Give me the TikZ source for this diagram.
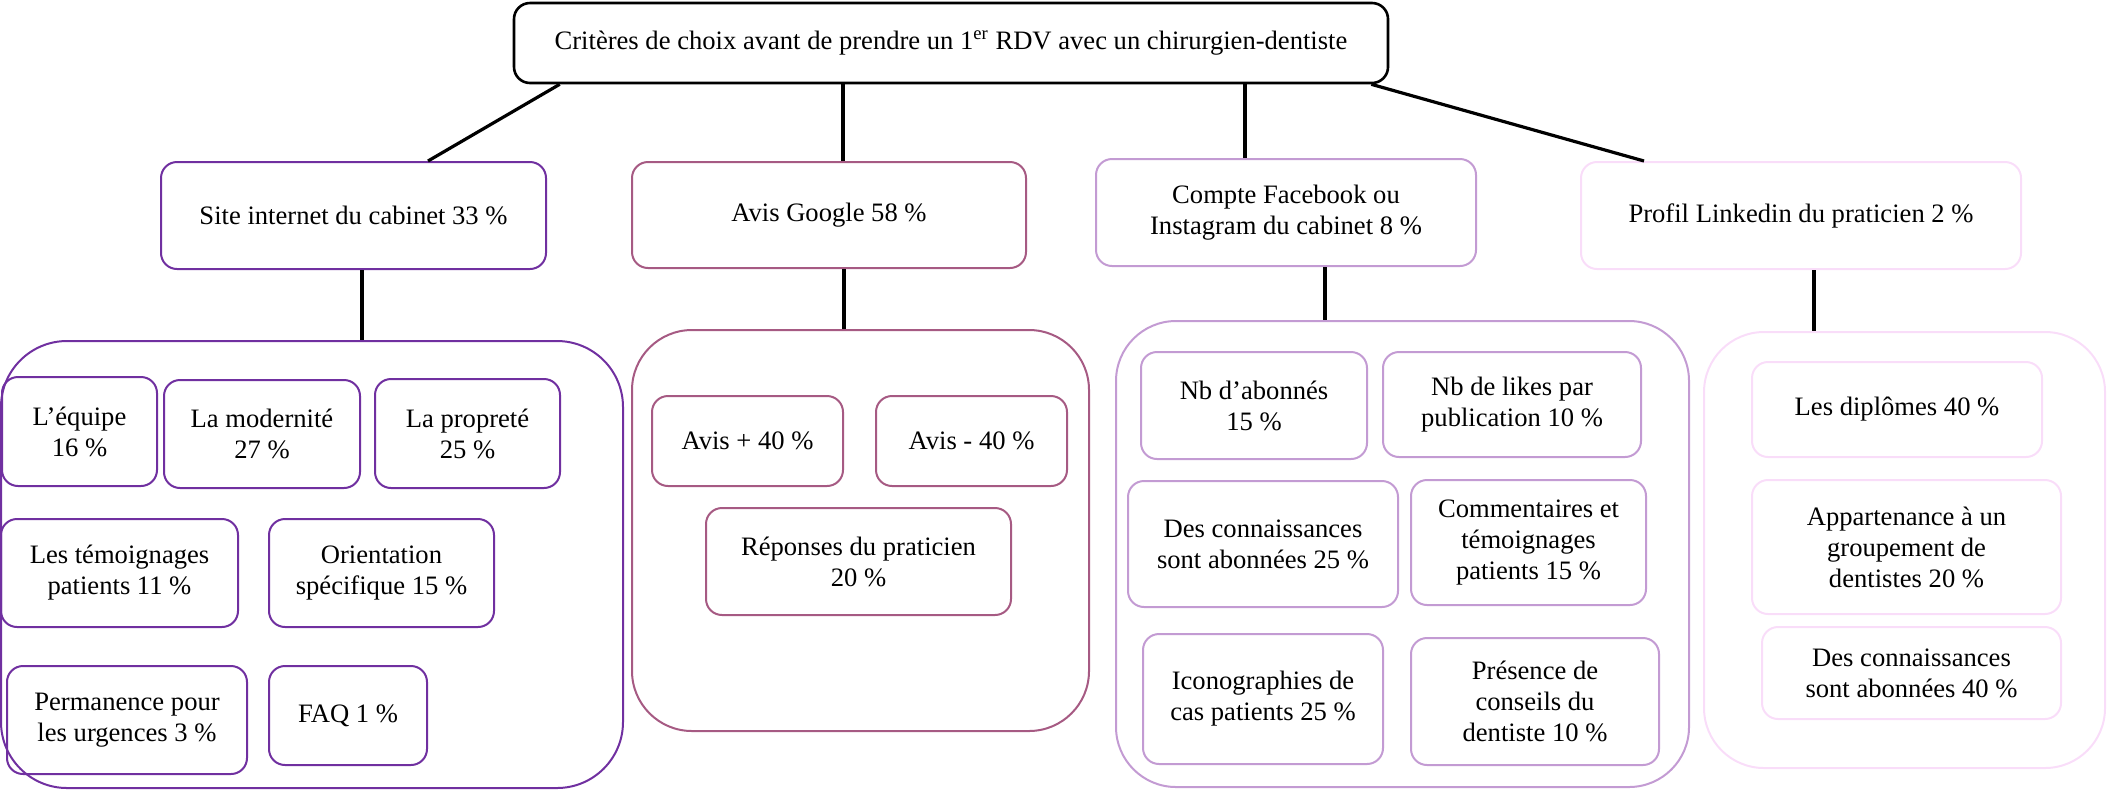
\documentclass[tikz,border=0pt]{standalone}
\usepackage{fontspec}
\setmainfont{Liberation Serif}
\definecolor{cA}{HTML}{7030A0}
\definecolor{cB}{HTML}{A65A83}
\definecolor{cC}{HTML}{C39BD3}
\definecolor{cD}{HTML}{F9DDF9}
\tikzset{
  bx/.style={draw=#1, line width=1pt, rounded corners=8pt, align=center, inner sep=2pt,
    font=\fontsize{13.3pt}{15.5pt}\selectfont},
  cont/.style={draw=#1, line width=1pt, rounded corners=31pt, inner sep=0pt},
  topbox/.style={draw=black, line width=1.3pt, rounded corners=8pt, align=center,
    font=\fontsize{13.3pt}{15.5pt}\selectfont},
  link/.style={line width=1.6pt, black}
}
\begin{document}
\begin{tikzpicture}[x=0.5pt,y=-0.5pt]
\useasboundingbox (0,0) rectangle (2107,794);
% top
\node[topbox, minimum width=437pt, minimum height=40pt] (top) at (951,43)
  {Critères de choix avant de prendre un 1\textsuperscript{er} RDV avec un chirurgien-dentiste};
% level 1
\node[bx=cA, minimum width=192.5pt, minimum height=53.5pt] (site) at (353.5,215.5) {Site internet du cabinet 33 \%};
\node[bx=cB, minimum width=197pt, minimum height=53pt] (goog) at (829,215) {Avis Google 58 \%};
\node[bx=cC, minimum width=190pt, minimum height=53.5pt] (fb) at (1286,212.5) {Compte Facebook ou\\Instagram du cabinet 8 \%};
\node[bx=cD, minimum width=220pt, minimum height=53.5pt] (li) at (1801,215.5) {Profil Linkedin du praticien 2 \%};
% containers
\node[cont=cA, minimum width=311pt, minimum height=223.5pt, rounded corners=33pt] (c1) at (312,564.5) {};
\node[cont=cB, minimum width=228.5pt, minimum height=200.5pt, rounded corners=30pt] (c2) at (860.5,530.5) {};
\node[cont=cC, minimum width=286.5pt, minimum height=233pt, rounded corners=30pt] (c3) at (1402.5,554) {};
\node[cont=cD, minimum width=200.5pt, minimum height=218pt, rounded corners=30pt] (c4) at (1904.5,550) {};
% C1 inner
\node[bx=cA, minimum width=77.5pt, minimum height=54.5pt] (equipe) at (79.5,431.5) {L’équipe\\16 \%};
\node[bx=cA, minimum width=98pt, minimum height=54pt] (modern) at (262,434) {La modernité\\27 \%};
\node[bx=cA, minimum width=92.5pt, minimum height=54.5pt] (propre) at (467.5,433.5) {La propreté\\25 \%};
\node[bx=cA, minimum width=118.5pt, minimum height=54pt] (temoin) at (119.5,573) {Les témoignages\\patients 11 \%};
\node[bx=cA, minimum width=112.5pt, minimum height=54pt] (orient) at (381.5,573) {Orientation\\spécifique 15 \%};
\node[bx=cA, minimum width=120pt, minimum height=54pt] (perm) at (127,720) {Permanence pour\\les urgences 3 \%};
\node[bx=cA, minimum width=79pt, minimum height=49.5pt] (faq) at (348,715.5) {FAQ 1 \%};
% C2 inner
\node[bx=cB, minimum width=95.5pt, minimum height=45pt] (avp) at (747.5,441) {Avis + 40 \%};
\node[bx=cB, minimum width=95.5pt, minimum height=45pt] (avm) at (971.5,441) {Avis - 40 \%};
\node[bx=cB, minimum width=152.5pt, minimum height=53.5pt] (rep) at (858.5,561.5) {Réponses du praticien\\20 \%};
% C3 inner
\node[bx=cC, minimum width=113pt, minimum height=53.5pt] (abon) at (1254,405.5) {Nb d’abonnés\\15 \%};
\node[bx=cC, minimum width=129pt, minimum height=52.5pt] (likes) at (1512,404.5) {Nb de likes par\\publication 10 \%};
\node[bx=cC, minimum width=135pt, minimum height=63pt] (conn) at (1263,544) {Des connaissances\\sont abonnées 25 \%};
\node[bx=cC, minimum width=117.5pt, minimum height=62.5pt] (comm) at (1528.5,542.5) {Commentaires et\\témoignages\\patients 15 \%};
\node[bx=cC, minimum width=120pt, minimum height=65pt] (icono) at (1263,699) {Iconographies de\\cas patients 25 \%};
\node[bx=cC, minimum width=124pt, minimum height=63.5pt] (pres) at (1535,701.5) {Présence de\\conseils du\\dentiste 10 \%};
% C4 inner
\node[bx=cD, minimum width=145pt, minimum height=47.5pt] (dipl) at (1897,409.5) {Les diplômes 40 \%};
\node[bx=cD, minimum width=154.5pt, minimum height=67pt] (appart) at (1906.5,547) {Appartenance à un\\groupement de\\dentistes 20 \%};
\node[bx=cD, minimum width=149.5pt, minimum height=46pt] (conn2) at (1911.5,673) {Des connaissances\\sont abonnées 40 \%};
% connectors
\coordinate (t1) at ([xshift=23.5pt]top.south west);
\coordinate (s1) at ([xshift=37.25pt]site.north);
\draw[link] (t1) -- (s1);
\coordinate (g1) at ([xshift=7pt]goog.north);
\draw[link] (g1) -- (g1 |- top.south);
\coordinate (f1) at ([xshift=-20.5pt]fb.north);
\draw[link] (f1) -- (f1 |- top.south);
\coordinate (t2) at ([xshift=-9pt]top.south east);
\coordinate (l1) at ([xshift=32pt]li.north west);
\draw[link] (t2) -- (l1);
\coordinate (s2) at ([xshift=4.25pt]site.south);
\draw[link] (s2) -- (s2 |- c1.north);
\coordinate (g2) at ([xshift=7.5pt]goog.south);
\draw[link] (g2) -- (g2 |- c2.north);
\coordinate (f2) at ([xshift=19.5pt]fb.south);
\draw[link] (f2) -- (f2 |- c3.north);
\coordinate (l2) at ([xshift=6.5pt]li.south);
\draw[link] (l2) -- (l2 |- c4.north);
\end{tikzpicture}
\end{document}
